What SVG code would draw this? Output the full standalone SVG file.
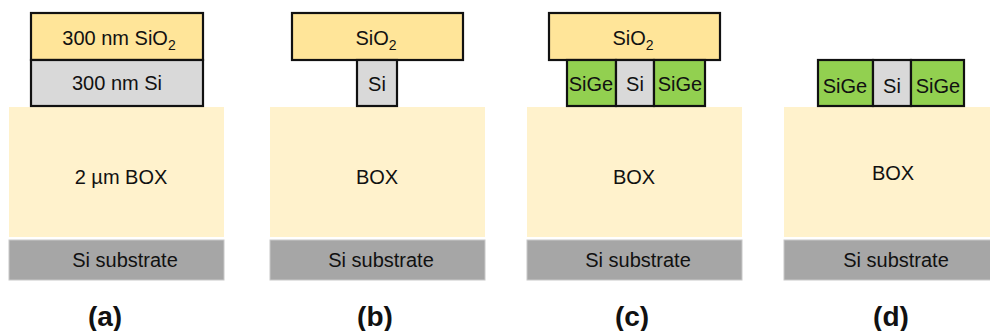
<svg xmlns="http://www.w3.org/2000/svg" width="990" height="331" viewBox="0 0 990 331">
  <style>
    text { font-family: "Liberation Sans", Arial, sans-serif; font-size: 20px; fill: #111; text-anchor: middle; }
    .lbl { font-size: 28px; font-weight: bold; }
    .box { fill: #fff2cc; }
    .sub { fill: #a6a6a6; stroke: #c8c8c8; stroke-width: 1; }
    .ox { fill: #ffe599; stroke: #111; stroke-width: 2.2; }
    .si { fill: #d9d9d9; stroke: #111; stroke-width: 2.2; }
    .sige { fill: #92d050; stroke: #111; stroke-width: 2.2; }
  </style>

  <!-- (a) starting SOI stack -->
  <g id="panel-a">
    <rect class="box" x="9" y="107" width="215" height="130"/>
    <rect class="sub" x="9" y="240" width="215" height="40"/>
    <rect class="ox" x="31" y="13" width="172" height="47"/>
    <rect class="si" x="31" y="60" width="172" height="46"/>
    <text x="119" y="45">300 nm SiO<tspan font-size="14" dy="5">2</tspan></text>
    <text x="117" y="90">300 nm Si</text>
    <text x="121" y="184">2 µm BOX</text>
    <text x="125" y="267">Si substrate</text>
    <text class="lbl" x="105" y="326">(a)</text>
  </g>

  <!-- (b) patterned Si core under oxide hard mask -->
  <g id="panel-b">
    <rect class="box" x="270" y="107" width="215" height="130"/>
    <rect class="sub" x="270" y="240" width="215" height="40"/>
    <rect class="ox" x="292" y="13" width="171" height="47"/>
    <rect class="si" x="357" y="60" width="40" height="46"/>
    <text x="376" y="45">SiO<tspan font-size="14" dy="5">2</tspan></text>
    <text x="377" y="91">Si</text>
    <text x="377" y="184">BOX</text>
    <text x="381" y="267">Si substrate</text>
    <text class="lbl" x="375" y="326">(b)</text>
  </g>

  <!-- (c) SiGe regrown on both sides -->
  <g id="panel-c">
    <rect class="box" x="527" y="107" width="215" height="130"/>
    <rect class="sub" x="527" y="240" width="215" height="40"/>
    <rect class="ox" x="549" y="13" width="171" height="47"/>
    <rect class="sige" x="567" y="60" width="49" height="46"/>
    <rect class="si" x="616" y="60" width="38" height="46"/>
    <rect class="sige" x="654" y="60" width="51" height="46"/>
    <text x="633" y="45">SiO<tspan font-size="14" dy="5">2</tspan></text>
    <text x="591" y="91">SiGe</text>
    <text x="635" y="91">Si</text>
    <text x="680" y="91">SiGe</text>
    <text x="634" y="184">BOX</text>
    <text x="638" y="267">Si substrate</text>
    <text class="lbl" x="632" y="326">(c)</text>
  </g>

  <!-- (d) oxide mask removed -->
  <g id="panel-d">
    <rect class="box" x="784" y="107" width="215" height="130"/>
    <rect class="sub" x="784" y="240" width="215" height="40"/>
    <rect class="sige" x="818" y="60" width="55" height="46"/>
    <rect class="si" x="873" y="60" width="38" height="46"/>
    <rect class="sige" x="911" y="60" width="53" height="46"/>
    <text x="845" y="93">SiGe</text>
    <text x="892" y="93">Si</text>
    <text x="938" y="93">SiGe</text>
    <text x="893" y="180">BOX</text>
    <text x="896" y="267">Si substrate</text>
    <text class="lbl" x="891" y="326">(d)</text>
  </g>

  <g id="connectors"/>
</svg>
